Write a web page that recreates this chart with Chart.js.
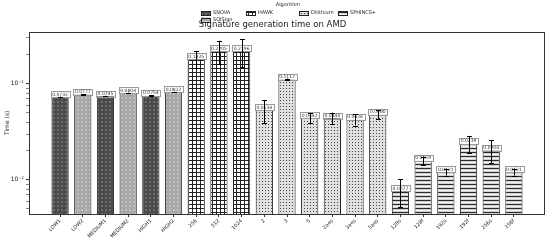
<!DOCTYPE html>
<html>
<head>
<meta charset="utf-8">
<script src="https://cdn.jsdelivr.net/npm/chart.js@4/dist/chart.umd.min.js"></script>
<style>
  body { margin: 0; background: #fff; }
  #wrap { width: 550px; height: 242px; }
</style>
</head>
<body>
<div id="wrap"><canvas id="myChart"></canvas></div>
<script>
const labels = ['LOW1', 'LOW2', 'MEDIUM1', 'MEDIUM2', 'HIGH1', 'HIGH2', '256', '512', '1024',
    '2', '3', '5', '2aes', '3aes', '5aes', '128s', '128f', '192s', '192f', '256s', '256f'];
const algorithms = ['SNOVA', 'SQISign', 'HAWK', 'Dilithium', 'SPHINCS+'];
const barAlgorithm = ['SNOVA', 'SQISign', 'SNOVA', 'SQISign', 'SNOVA', 'SQISign',
    'HAWK', 'HAWK', 'HAWK',
    'Dilithium', 'Dilithium', 'Dilithium', 'Dilithium', 'Dilithium', 'Dilithium',
    'SPHINCS+', 'SPHINCS+', 'SPHINCS+', 'SPHINCS+', 'SPHINCS+', 'SPHINCS+'];
const times = [0.0732, 0.0777, 0.0745, 0.0804, 0.0754, 0.0822, 0.1825, 0.2205, 0.2196,
    0.0534, 0.1112, 0.0442, 0.0440, 0.0426, 0.0480, 0.0077, 0.0159, 0.0121, 0.0239, 0.0204, 0.0121];
const errors = [0.0005, 0.0006, 0.0005, 0.0006, 0.0005, 0.0006, 0.035, 0.06, 0.07,
    0.0145, 0.002, 0.005, 0.006, 0.0058, 0.0048, 0.0025, 0.0016, 0.001, 0.0048, 0.0054, 0.001];
const yTicks = [0.005, 0.006, 0.007, 0.008, 0.009, 0.01, 0.02, 0.03, 0.04, 0.05, 0.06, 0.07, 0.08, 0.09, 0.1, 0.2, 0.3];

function makePattern(base, size, draw) {
    const c = document.createElement('canvas');
    c.width = size; c.height = size;
    const g = c.getContext('2d');
    g.fillStyle = base;
    g.fillRect(0, 0, size, size);
    draw(g);
    return g.createPattern(c, 'repeat');
}

const patterns = {
    'SNOVA': makePattern('#4a4a4a', 4, g => {
        g.fillStyle = '#8c8c8c';
        g.fillRect(1, 1, 2, 2);
        g.fillStyle = '#111';
        g.fillRect(1.5, 1.5, 1, 1);
    }),
    'SQISign': makePattern('#a8a8a8', 4, g => {
        g.fillStyle = '#ececec';
        g.fillRect(1, 1, 2, 2);
        g.fillStyle = '#333';
        g.fillRect(1.5, 1.5, 1, 1);
    }),
    'HAWK': makePattern('#ffffff', 4, g => {
        g.fillStyle = '#222';
        g.fillRect(0, 0, 4, 1);
        g.fillRect(0, 0, 1, 4);
    }),
    'Dilithium': makePattern('#e0e0e0', 3, g => {
        g.fillStyle = '#444';
        g.fillRect(1, 1, 1, 1);
    }),
    'SPHINCS+': makePattern('#d0d0d0', 4, g => {
        g.fillStyle = '#2a2a2a';
        g.fillRect(0, 0, 4, 1);
        g.fillStyle = '#f4f4f4';
        g.fillRect(0, 2, 4, 1);
    })
};

const FONT = 'DejaVu Sans';

// value boxes + error bars on top of the bars
const barDecorations = {
    id: 'barDecorations',
    afterDatasetsDraw(chart) {
        const { ctx, scales: { y } } = chart;
        const meta = chart.getDatasetMeta(0);
        ctx.save();
        ctx.font = '4.5px "' + FONT + '"';
        ctx.textAlign = 'center';
        ctx.textBaseline = 'bottom';
        meta.data.forEach((bar, i) => {
            const txt = times[i].toFixed(4);
            const w = ctx.measureText(txt).width + 3;
            const h = 6;
            const top = bar.y - h + 0.5;
            ctx.fillStyle = 'rgba(255,255,255,0.85)';
            ctx.strokeStyle = '#9a9a9a';
            ctx.lineWidth = 1;
            ctx.fillRect(bar.x - w / 2, top, w, h);
            ctx.strokeRect(Math.round(bar.x - w / 2) + 0.5, Math.round(top) + 0.5, Math.round(w), h);
            ctx.fillStyle = '#333';
            ctx.fillText(txt, bar.x, bar.y);
        });
        ctx.strokeStyle = '#000';
        ctx.lineWidth = 1;
        meta.data.forEach((bar, i) => {
            const y1 = y.getPixelForValue(times[i] + errors[i]);
            const y2 = y.getPixelForValue(Math.max(times[i] - errors[i], 1e-6));
            const x = Math.round(bar.x) + 0.5;
            ctx.beginPath();
            ctx.moveTo(x, y1); ctx.lineTo(x, y2);
            ctx.moveTo(x - 2.5, Math.round(y1) + 0.5); ctx.lineTo(x + 2.5, Math.round(y1) + 0.5);
            ctx.moveTo(x - 2.5, Math.round(y2) + 0.5); ctx.lineTo(x + 2.5, Math.round(y2) + 0.5);
            ctx.stroke();
        });
        ctx.restore();
    }
};

// plot frame and the column-wise legend like matplotlib's
const frameAndLegend = {
    id: 'frameAndLegend',
    afterDraw(chart) {
        const { ctx, chartArea: { left, top, right, bottom } } = chart;
        ctx.save();
        ctx.strokeStyle = '#333';
        ctx.lineWidth = 1;
        ctx.strokeRect(Math.round(left) + 0.5, Math.round(top) + 0.5,
            Math.round(right - left) - 1, Math.round(bottom - top));

        ctx.fillStyle = '#222';
        ctx.font = '5px "' + FONT + '"';
        ctx.textAlign = 'center';
        ctx.textBaseline = 'middle';
        ctx.fillText('Algorithm', 288, 5);

        const slots = {
            'SNOVA': [201, 13], 'SQISign': [201, 19.5], 'HAWK': [246, 13],
            'Dilithium': [299, 13], 'SPHINCS+': [338, 13]
        };
        ctx.textAlign = 'left';
        algorithms.forEach(name => {
            const [x, yy] = slots[name];
            ctx.fillStyle = patterns[name];
            ctx.fillRect(x, yy - 2, 10, 4);
            ctx.strokeStyle = '#222';
            ctx.strokeRect(x + 0.5, Math.round(yy - 2) + 0.5, 9, 4);
            ctx.fillStyle = '#222';
            ctx.fillText(name, x + 12, yy);
        });
        ctx.restore();
    }
};

new Chart(document.getElementById('myChart'), {
    type: 'bar',
    data: {
        datasets: [{
            data: times.map((t, i) => ({ x: i, y: t })),
            backgroundColor: barAlgorithm.map(a => patterns[a]),
            borderColor: '#222',
            borderWidth: 1,
            barPercentage: 0.76,
            categoryPercentage: 1
        }]
    },
    options: {
        animation: false,
        responsive: true,
        maintainAspectRatio: false,
        layout: { padding: { left: 0, right: 5, top: 0, bottom: 0 } },
        plugins: {
            legend: { display: false },
            tooltip: { enabled: false },
            title: {
                display: true,
                text: 'Signature generation time on AMD',
                color: '#222',
                font: { family: FONT, size: 8.5, weight: 'normal' },
                padding: { top: 20, bottom: 1.5 }
            }
        },
        scales: {
            x: {
                type: 'linear',
                offset: false,
                min: -1.37,
                max: 21.37,
                afterBuildTicks: axis => { axis.ticks = labels.map((l, i) => ({ value: i })); },
                afterFit: scale => { scale.height = 28; },
                ticks: {
                    autoSkip: false,
                    minRotation: 45,
                    maxRotation: 45,
                    padding: 1,
                    color: '#222',
                    font: { family: FONT, size: 5 },
                    callback: v => labels[v]
                },
                grid: { offset: false, drawOnChartArea: false, tickLength: 3, color: '#333' },
                border: { display: false }
            },
            y: {
                type: 'logarithmic',
                min: 0.00442,
                max: 0.348,
                afterBuildTicks: axis => { axis.ticks = yTicks.map(v => ({ value: v })); },
                afterFit: scale => { scale.width = 29; },
                title: {
                    display: true,
                    text: 'Time (s)',
                    color: '#222',
                    font: { family: FONT, size: 6 },
                    padding: { top: 3.5, bottom: 0 }
                },
                ticks: {
                    autoSkip: false,
                    padding: 2,
                    color: '#222',
                    font: { family: FONT, size: 6 },
                    callback: v => v === 0.1 ? '10⁻¹' : (v === 0.01 ? '10⁻²' : '')
                },
                grid: {
                    drawOnChartArea: false,
                    tickLength: 3,
                    color: '#333',
                    lineWidth: ctx => (ctx.tick && (ctx.tick.value === 0.1 || ctx.tick.value === 0.01)) ? 1 : 0.6
                },
                border: { display: false }
            }
        }
    },
    plugins: [barDecorations, frameAndLegend]
});
</script>
</body>
</html>
